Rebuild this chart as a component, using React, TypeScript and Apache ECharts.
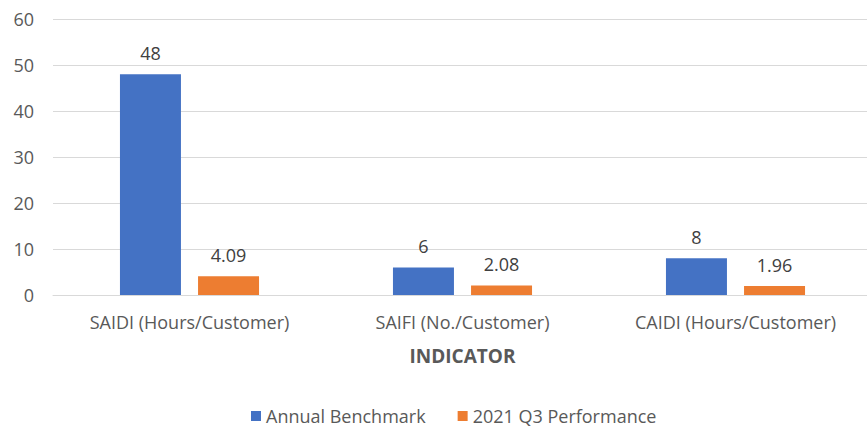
import React, { useEffect, useRef } from "react";
import * as echarts from "echarts";

const categories = ["SAIDI (Hours/Customer)", "SAIFI (No./Customer)", "CAIDI (Hours/Customer)"];
const annualBenchmark = [48, 6, 8];
const q3Performance = [4.09, 2.08, 1.96];
const seriesNames = ["Annual Benchmark", "2021 Q3 Performance"];
const yTicks = { min: 0, max: 60, interval: 10 };

const FONT = "Open Sans";

export default function App() {
  const ref = useRef<HTMLDivElement>(null);
  useEffect(() => {
    const chart = echarts.init(ref.current!, null, { renderer: "svg" });
    chart.setOption({
      animation: false,
      textStyle: { fontFamily: FONT },
      grid: { left: 53, right: 0, top: 19, bottom: 133, containLabel: false },
      legend: {
        top: 402,
        left: 246,
        itemWidth: 10,
        itemHeight: 10,
        itemGap: 32,
        icon: "rect",
        textStyle: { fontFamily: FONT, fontSize: 18, color: "#595959" },
        data: seriesNames,
      },
      xAxis: {
        type: "category",
        data: categories,
        name: "INDICATOR",
        nameLocation: "middle",
        nameGap: 51,
        nameTextStyle: { fontFamily: FONT, fontSize: 19, fontWeight: "bold", color: "#595959" },
        axisLine: { lineStyle: { color: "#D9D9D9" } },
        axisTick: { show: false },
        axisLabel: { fontFamily: FONT, fontSize: 18, color: "#595959", margin: 18 },
      },
      yAxis: {
        type: "value",
        min: yTicks.min,
        max: yTicks.max,
        interval: yTicks.interval,
        axisLine: { show: false },
        axisTick: { show: false },
        splitLine: { lineStyle: { color: "#D9D9D9" } },
        axisLabel: { fontFamily: FONT, fontSize: 18, color: "#595959", margin: 19 },
      },
      series: [
        {
          name: seriesNames[0],
          type: "bar",
          data: annualBenchmark,
          barWidth: 61,
          barGap: "28%",
          itemStyle: { color: "#4472C4" },
          label: { show: true, position: "top", distance: 12, fontFamily: FONT, fontSize: 18, color: "#404040" },
        },
        {
          name: seriesNames[1],
          type: "bar",
          data: q3Performance,
          barWidth: 61,
          barGap: "28%",
          itemStyle: { color: "#ED7D31" },
          label: { show: true, position: "top", distance: 12, fontFamily: FONT, fontSize: 18, color: "#404040" },
        },
      ],
    });
    return () => chart.dispose();
  }, []);
  return (
    <div style={{ width: 867, height: 428, position: "absolute", left: 0, top: 0, overflow: "hidden" }}>
      <div ref={ref} style={{ width: 872, height: 428, position: "absolute", left: 0, top: 0 }} />
    </div>
  );
}
